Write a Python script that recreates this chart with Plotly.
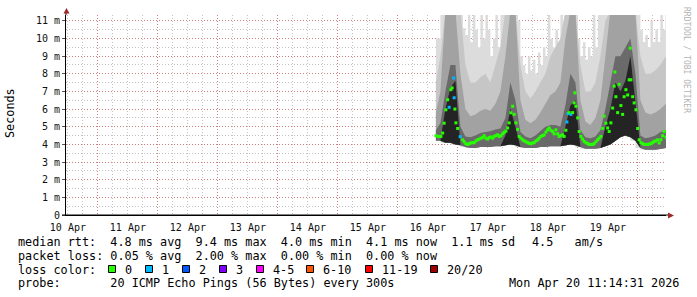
import plotly.graph_objects as go
import pandas as pd

# ---------------- data ----------------
END_TIME = "2026-04-20 11:14:31"
BASE_DAY = "2026-04-16 00:00:00"   # hour offsets below are measured from this moment

day_label_text = ["10 Apr", "11 Apr", "12 Apr", "13 Apr", "14 Apr",
                  "15 Apr", "16 Apr", "17 Apr", "18 Apr", "19 Apr"]
y_tick_vals = [0, 1, 2, 3, 4, 5, 6, 7, 8, 9, 10, 11]
y_tick_text = ["0", "1 m", "2 m", "3 m", "4 m", "5 m", "6 m", "7 m", "8 m", "9 m", "10 m", "11 m"]

# median round-trip time (ms) and lost pings per sample
median_hours = [15.2, 16.2, 17.2, 17.9, 18.5, 19.2, 19.9, 20.5, 21.2, 21.7, 22.3, 22.5, 22.8, 23.2, 23.9,
                24.9, 25.9, 26.5, 27.2, 27.9, 28.5, 29.2, 29.9, 30.5, 31.2, 31.9, 32.5, 33.2, 33.9, 34.5,
                35.2, 35.9, 36.5, 37.2, 37.9, 38.5, 39.2, 39.9, 40.5, 41.2, 41.9, 42.5, 43.2, 43.9, 44.5,
                45.2, 45.9, 46.5, 47.2, 47.9, 48.5, 49.2, 49.9, 50.5, 51.2, 51.9, 52.5, 53.2, 53.9, 54.5,
                55.2, 55.9, 56.5, 57.2, 57.9, 58.5, 59.2, 59.9, 60.5, 61.2, 61.9, 62.5, 63.2, 63.9, 64.5,
                65.2, 65.9, 66.5, 67.2, 67.6, 68.1, 68.5, 69.2, 69.9, 70.5, 70.8, 71.2, 71.9, 72.5, 73.2,
                73.9, 74.5, 75.2, 75.9, 76.5, 77.2, 77.9, 78.5, 79.2, 79.9, 80.5, 81.2, 81.9, 82.5, 83.2,
                83.9, 84.5, 85.2, 85.9, 86.5, 86.8, 87.2, 87.9, 88.5, 89.2, 89.9, 90.5, 91.2, 91.9, 92.5,
                92.9, 93.2, 93.9, 94.5, 95.2, 95.9, 96.5, 97.2, 97.9, 98.5, 99.2, 99.9, 100.5, 101.2, 101.9,
                102.5, 103.2, 103.9, 104.5, 105.2, 105.9, 106.5, 107.2]
median_ms = [4.49, 4.45, 4.45, 4.64, 5.2, 5.96, 6.53, 6.1, 7.1, 7.2, 7.76, 6.64, 6.0, 5.22, 4.9,
             4.44, 4.26, 4.15, 4.04, 4.0, 4.04, 4.08, 4.1, 4.1, 4.2, 4.26, 4.3, 4.35, 4.4, 4.49,
             4.35, 4.3, 4.38, 4.42, 4.35, 4.45, 4.5, 4.54, 4.45, 4.49, 4.6, 4.68, 4.75, 4.93, 5.22,
             5.79, 6.16, 5.7, 5.22, 4.85, 4.45, 4.35, 4.26, 4.2, 4.15, 4.1, 4.06, 4.04, 4.08, 4.1,
             4.2, 4.26, 4.35, 4.45, 4.5, 4.54, 4.7, 4.83, 4.93, 4.8, 4.73, 4.6, 4.83, 4.6, 4.45,
             4.5, 4.54, 4.45, 4.8, 5.27, 5.75, 5.8, 5.7, 5.8, 6.35, 6.92, 6.16, 5.5, 4.73, 4.45,
             4.3, 4.17, 4.1, 4.04, 4.0, 3.99, 4.0, 4.04, 4.15, 4.26, 4.35, 4.45, 4.9, 5.6, 5.2,
             4.93, 4.73, 5.22, 6.06, 7.3, 8.1, 6.7, 5.8, 7.4, 6.2, 5.7, 6.7, 7.1, 6.8, 7.66,
             9.45, 7.66, 6.7, 6.35, 5.96, 4.9, 4.26, 4.1, 4.04, 4.0, 4.0, 3.99, 4.02, 4.04, 4.1,
             4.17, 4.2, 4.26, 4.08, 4.26, 4.49, 4.73, 4.4]
median_loss = [0, 0, 0, 0, 0, 0, 0, 1, 0, 0, 1, 1, 0, 0, 0,
               1, 0, 0, 0, 0, 0, 0, 0, 0, 0, 0, 0, 0, 0, 0,
               0, 0, 0, 0, 0, 0, 0, 0, 0, 0, 0, 0, 0, 0, 0,
               0, 0, 0, 0, 0, 0, 0, 0, 0, 0, 0, 0, 0, 0, 0,
               0, 0, 0, 0, 0, 0, 0, 0, 0, 0, 0, 0, 0, 0, 0,
               0, 0, 0, 0, 1, 1, 0, 1, 0, 0, 0, 0, 0, 0, 0,
               0, 0, 0, 0, 0, 0, 0, 0, 0, 0, 0, 0, 0, 0, 0,
               0, 0, 0, 0, 0, 0, 0, 0, 0, 0, 0, 0, 0, 0, 0,
               0, 0, 0, 0, 0, 0, 0, 0, 0, 0, 0, 0, 0, 0, 0,
               0, 0, 0, 0, 0, 0, 0, 0]

# smoke: spread of the 20 pings (ms), bands from the fastest ping upward
smoke_hours = [15.2, 17, 19, 21, 23, 25, 27, 29, 31, 33, 35, 37, 39, 41, 43, 45, 47, 49, 51, 53,
               55, 57, 59, 61, 63, 65, 67, 69, 71, 73, 75, 77, 79, 81, 83, 85, 87, 89, 91, 93,
               95, 97, 99, 101, 103, 105, 107.2]
smoke_min = [4.2, 4.2, 4.1, 4.1, 4.0, 3.95, 3.85, 3.8, 3.8, 3.85, 3.85, 3.85, 3.9, 3.9, 3.95, 4.0, 3.95, 3.85, 3.8, 3.8,
             3.8, 3.85, 3.85, 3.9, 3.9, 3.9, 3.95, 4.0, 3.95, 3.85, 3.75, 3.75, 3.75, 3.8, 3.9, 4.0, 4.2, 4.4, 4.5, 4.4,
             4.2, 3.8, 3.7, 3.7, 3.7, 3.75, 3.8]
smoke_core = [4.2, 4.2, 6.0, 7.2, 7.6, 3.95, 3.85, 3.8, 3.8, 3.85, 3.85, 3.85, 3.9, 3.9, 4.5, 6.0, 5.0, 3.85, 3.8, 3.8,
              3.8, 3.85, 3.85, 3.9, 3.9, 3.9, 5.0, 6.2, 6.5, 3.85, 3.75, 3.75, 3.75, 3.8, 5.0, 6.0, 7.5, 7.0, 7.6, 9.0,
              6.5, 3.8, 3.7, 3.7, 3.7, 3.75, 3.8]
smoke_dark = [4.8, 5.2, 7.0, 8.5, 8.5, 5.0, 4.45, 4.4, 4.5, 4.65, 4.7, 4.75, 4.85, 4.9, 5.5, 7.5, 6.5, 4.7, 4.45, 4.35,
              4.5, 4.75, 5.0, 5.1, 5.1, 5.0, 6.2, 8.0, 7.5, 4.8, 4.4, 4.35, 4.45, 4.8, 6.0, 7.5, 9.0, 9.0, 9.5, 10.0,
              8.0, 4.5, 4.35, 4.4, 4.5, 4.7, 4.8]
smoke_mid = [5.8, 7.0, 11.6, 11.6, 11.6, 8.0, 6.0, 5.6, 5.7, 5.9, 6.0, 5.9, 6.3, 7.0, 9.0, 11.6, 11.6, 6.5, 5.4, 5.2,
             5.4, 5.8, 6.3, 6.8, 7.0, 7.5, 10.0, 11.6, 11.6, 6.5, 5.3, 5.1, 5.5, 6.5, 9.0, 11.6, 11.6, 11.6, 11.6, 11.6,
             11.6, 6.5, 5.8, 5.7, 5.8, 6.0, 6.3]
smoke_light = [7.5, 9.0, 11.6, 11.6, 11.6, 11.6, 8.5, 7.5, 7.5, 7.8, 8.0, 7.5, 8.5, 9.5, 11.6, 11.6, 11.6, 8.5, 7.0, 6.6,
               7.0, 7.5, 8.0, 9.0, 9.5, 10.0, 11.6, 11.6, 11.6, 8.5, 7.0, 7.0, 7.5, 9.0, 11.0, 11.6, 11.6, 11.6, 11.6, 11.6,
               11.6, 9.0, 8.0, 8.0, 8.2, 8.5, 9.0]
# slowest ping, hourly
max_hours = [15.2, 16, 17, 18, 19, 20, 21, 22, 23, 24, 25, 26, 27, 28, 29, 30, 31, 32, 33, 34,
             35, 36, 37, 38, 39, 40, 41, 42, 43, 44, 45, 46, 47, 48, 49, 50, 51, 52, 53, 54,
             55, 56, 57, 58, 59, 60, 61, 62, 63, 64, 65, 66, 67, 68, 69, 70, 71, 72, 73, 74,
             75, 76, 77, 78, 79, 80, 81, 82, 83, 84, 85, 86, 87, 88, 89, 90, 91, 92, 93, 94,
             95, 96, 97, 98, 99, 100, 101, 102, 103, 104, 105, 106, 107]
smoke_max = [10.0, 10.0, 11.6, 11.6, 11.6, 11.6, 11.6, 11.6, 11.6, 11.6, 11.6, 10.6, 10.2, 11.6, 9.8, 11.6, 10.5, 9.5, 11.6, 10.0,
             11.6, 10.5, 9.0, 10.0, 11.6, 9.5, 11.6, 11.6, 11.6, 11.6, 11.6, 11.6, 11.6, 11.0, 9.0, 8.5, 8.0, 9.0, 8.2, 8.8,
             8.0, 9.2, 8.5, 9.5, 9.0, 11.6, 10.0, 9.5, 10.5, 9.8, 11.6, 10.5, 11.6, 11.6, 11.6, 11.6, 11.6, 10.0, 9.0, 9.8,
             8.8, 9.5, 9.0, 11.6, 9.5, 11.6, 11.6, 11.6, 11.6, 11.6, 11.6, 11.6, 11.6, 11.6, 11.6, 11.6, 11.6, 11.6, 11.6, 11.6,
             11.6, 11.6, 10.5, 9.8, 10.2, 9.5, 11.0, 9.8, 10.5, 9.8, 11.6, 10.5, 11.6]

loss_labels = ["0", "1", "2", "3", "4-5", "6-10", "11-19", "20/20"]
loss_colors = ["#26ff00", "#00b8ff", "#0059ff", "#7e00ff", "#ff00ff", "#ff5500", "#ff0000", "#a10000"]

stats_rtt = "median rtt:  4.8 ms avg  9.4 ms max  4.0 ms min  4.1 ms now  1.1 ms sd"
stats_amps = "4.5   am/s"
stats_loss = "packet loss: 0.05 % avg  2.00 % max  0.00 % min  0.00 % now"
probe_text = "probe:       20 ICMP Echo Pings (56 Bytes) every 300s"
stamp_text = "Mon Apr 20 11:14:31 2026"

# ---------------- figure ----------------
W, H = 697, 297
L, R, T, B = 66, 31, 15, 82
PW, PH = W - L - R, H - T - B

def px(x):
    return (x - L) / PW

def py(y):
    return (H - B - y) / PH

end = pd.Timestamp(END_TIME)
start = end - pd.Timedelta(days=10)
base = pd.Timestamp(BASE_DAY)
t_med = list(base + pd.to_timedelta(median_hours, unit="h"))
t_smk = list(base + pd.to_timedelta(smoke_hours, unit="h"))
t_max = list(base + pd.to_timedelta(max_hours, unit="h"))

fig = go.Figure()

def band(t_up, upper, color, shape):
    fig.add_trace(go.Scatter(x=t_up + t_smk[::-1], y=list(upper) + smoke_min[::-1], mode="lines",
                             fill="toself", fillcolor=color, line=dict(width=0, color=color, shape=shape),
                             hoverinfo="skip", showlegend=False))

band(t_max, smoke_max, "#dcdcdc", "hv")
band(t_smk, smoke_light, "#c6c6c6", "linear")
band(t_smk, smoke_mid, "#a2a2a2", "linear")
band(t_smk, smoke_dark, "#6a6a6a", "linear")
band(t_smk, smoke_core, "#242424", "linear")

fig.add_trace(go.Scatter(x=t_med, y=median_ms, mode="markers", xaxis="x2", yaxis="y",
                         marker=dict(symbol="square", size=3, color=[loss_colors[l] for l in median_loss],
                                     line=dict(width=0)),
                         showlegend=False))

mono = "DejaVu Sans Mono"
grid_major = "rgba(215,70,70,0.55)"
grid_minor = "#c4c4c4"
midnights = pd.date_range(start.normalize() + pd.Timedelta(days=1), end, freq="D")
noons = pd.date_range(start.normalize() + pd.Timedelta(hours=12), periods=len(day_label_text), freq="D")

fig.update_layout(
    width=W, height=H, margin=dict(l=L, r=R, t=T, b=B),
    paper_bgcolor="white", plot_bgcolor="white", showlegend=False,
    xaxis=dict(type="date", range=[start, end], tickvals=list(midnights), showticklabels=False,
               showgrid=True, gridcolor=grid_major, griddash="1px,2px", gridwidth=1,
               minor=dict(dtick=6 * 3600 * 1000, tick0=start.normalize(), showgrid=True,
                          gridcolor=grid_minor, griddash="1px,2px", gridwidth=1),
               showline=True, linecolor="#000000", linewidth=1, zeroline=False, ticks=""),
    xaxis2=dict(type="date", range=[start, end], overlaying="x", anchor="y", side="bottom",
                tickvals=list(noons), ticktext=day_label_text, showgrid=False, showline=False,
                ticks="outside", ticklen=3, tickcolor="rgba(0,0,0,0)",
                tickfont=dict(family=mono, size=10, color="#111")),
    yaxis=dict(range=[0, 11.33], tickvals=y_tick_vals, ticktext=y_tick_text,
               showgrid=True, gridcolor=grid_major, griddash="1px,2px", gridwidth=1,
               minor=dict(dtick=0.5, showgrid=True, gridcolor=grid_minor, griddash="1px,2px", gridwidth=1),
               showline=True, linecolor="#000000", linewidth=1, zeroline=False,
               ticks="outside", ticklen=3, tickcolor="#555",
               tickfont=dict(family=mono, size=10, color="#111")),
)

arrow = "#9e2a2a"
shapes = [
    dict(type="line", xref="paper", yref="paper", x0=px(L), x1=px(L), y0=1, y1=py(11), line=dict(color="#000", width=1)),
    dict(type="path", xref="paper", yref="paper",
         path=f"M {px(63.5)} {py(13.5)} L {px(69.5)} {py(13.5)} L {px(66.5)} {py(8)} Z",
         fillcolor=arrow, line=dict(width=0)),
    dict(type="line", xref="paper", yref="paper", x0=px(62), x1=px(668), y0=0, y1=0, line=dict(color="#000", width=1)),
    dict(type="path", xref="paper", yref="paper",
         path=f"M {px(668)} {py(212.5)} L {px(668)} {py(218.5)} L {px(674)} {py(215.5)} Z",
         fillcolor=arrow, line=dict(width=0)),
]

ann = []
def text(x, y, s, size=11.8, anchor="left", color="#000", angle=0):
    ann.append(dict(xref="paper", yref="paper", x=px(x), y=py(y), text=s, showarrow=False,
                    xanchor=anchor, yanchor="middle", textangle=angle,
                    font=dict(family=mono, size=size, color=color)))

text(10, 113, "Seconds", size=11.8, anchor="center", angle=-90)
text(686, 60, "RRDTOOL / TOBI OETIKER", size=8, anchor="center", color="#b4b4b4", angle=90)
text(15.5, 241.5, stats_rtt.replace(" ", "&nbsp;"))
text(530, 241.5, stats_amps.replace(" ", "&nbsp;"))
text(15.5, 255.5, stats_loss.replace(" ", "&nbsp;"))
text(15.5, 269.5, "loss&nbsp;color:")
box_x = [108.5, 145.5, 182.5, 219.5, 256.5, 306.5, 365.5, 430.5]
for bx, lab, col in zip(box_x, loss_labels, loss_colors):
    shapes.append(dict(type="rect", xref="paper", yref="paper", x0=px(bx), x1=px(bx + 7),
                       y0=py(272.5), y1=py(265.5), fillcolor=col, line=dict(color="#000", width=1)))
    text(bx + 14.5, 269.5, lab)
text(15.5, 283, probe_text.replace(" ", "&nbsp;"))
text(681, 283, stamp_text.replace(" ", "&nbsp;"), anchor="right")

fig.update_layout(shapes=shapes, annotations=ann)
fig.write_html("out.html")
